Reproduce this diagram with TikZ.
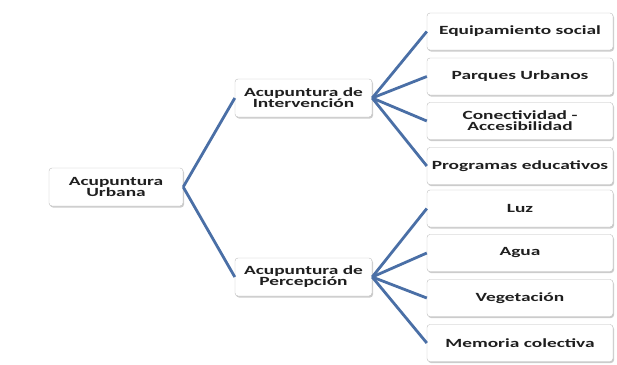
\documentclass[tikz,border=0pt]{standalone}
\usepackage{fontspec}
\usepackage{xcolor}
\usetikzlibrary{shadows}
\newfontfamily\carlitofam{Carlito}[FakeStretch=1.55]
\newcommand{\nodefont}{\carlitofam\bfseries\fontsize{12.5}{11}\selectfont}
\definecolor{linkblue}{HTML}{4A6FA6}
\definecolor{boxline}{HTML}{BDBDBD}

\begin{document}
\begin{tikzpicture}[
    x=1pt, y=-1pt,
    box/.style={draw=boxline, fill=white, rounded corners=3pt, inner sep=0pt,
                minimum height=38pt, align=center, font=\nodefont, text=black!88,
                drop shadow={shadow xshift=1pt, shadow yshift=-1.5pt, fill=black!40}},
    rootbox/.style={box, minimum width=134pt},
    midbox/.style={box, minimum width=137pt},
    leafbox/.style={box, minimum width=186pt, minimum height=37pt},
    link/.style={draw=linkblue, line width=2.8pt}
  ]
  \useasboundingbox (0,0) rectangle (617,364);

  \node[rootbox] (root)  at (116,187)   {Acupuntura\\Urbana};
  \node[midbox]  (inter) at (303.5,98)  {Acupuntura de\\Intervención};
  \node[midbox]  (perc)  at (303.5,277) {Acupuntura de\\Percepción};

  \node[leafbox] (equip) at (520,31.5)  {Equipamiento social};
  \node[leafbox] (parq)  at (520,76.5)  {Parques Urbanos};
  \node[leafbox] (conec) at (520,121)   {Conectividad -\\Accesibilidad};
  \node[leafbox] (prog)  at (520,166)   {Programas educativos};
  \node[leafbox] (luz)   at (520,208.5) {Luz};
  \node[leafbox] (agua)  at (520,253)   {Agua};
  \node[leafbox] (veget) at (520,298)   {Vegetación};
  \node[leafbox] (memo)  at (520,343)   {Memoria colectiva};

  \draw[link] (root.east) -- (inter.west);
  \draw[link] (root.east) -- (perc.west);

  \draw[link] (inter.east) -- (equip.west);
  \draw[link] (inter.east) -- (parq.west);
  \draw[link] (inter.east) -- (conec.west);
  \draw[link] (inter.east) -- (prog.west);

  \draw[link] (perc.east) -- (luz.west);
  \draw[link] (perc.east) -- (agua.west);
  \draw[link] (perc.east) -- (veget.west);
  \draw[link] (perc.east) -- (memo.west);
\end{tikzpicture}
\end{document}
